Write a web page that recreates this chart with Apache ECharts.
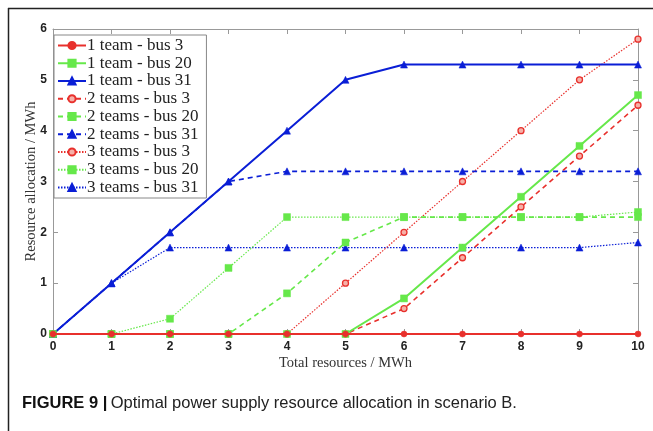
<!DOCTYPE html>
<html><head><meta charset="utf-8">
<script src="https://cdn.jsdelivr.net/npm/echarts@6/dist/echarts.min.js"></script>
<style>html,body{margin:0;padding:0;background:#fff}#c{width:653px;height:431px}</style>
</head><body><div id="c"></div>
<script>
const xValues = [0,1,2,3,4,5,6,7,8,9,10];
const team1Bus3  = [0,0,0,0,0,0,0,0,0,0,0];
const team1Bus20 = [0,0,0,0,0,0,0.7,1.7,2.7,3.7,4.7];
const team1Bus31 = [0,1,2,3,4,5,5.3,5.3,5.3,5.3,5.3];
const team2Bus3  = [0,0,0,0,0,0,0.5,1.5,2.5,3.5,4.5];
const team2Bus20 = [0,0,0,0,0.8,1.8,2.3,2.3,2.3,2.3,2.3];
const team2Bus31 = [0,1,2,3,3.2,3.2,3.2,3.2,3.2,3.2,3.2];
const team3Bus3  = [0,0,0,0,0,1,2,3,4,5,5.8];
const team3Bus20 = [0,0,0.3,1.3,2.3,2.3,2.3,2.3,2.3,2.3,2.4];
const team3Bus31 = [0,1,1.7,1.7,1.7,1.7,1.7,1.7,1.7,1.7,1.8];
const seriesNames = ['1 team - bus 3','1 team - bus 20','1 team - bus 31','2 teams - bus 3','2 teams - bus 20','2 teams - bus 31','3 teams - bus 3','3 teams - bus 20','3 teams - bus 31'];
const xTitle = 'Total resources / MWh';
const yTitle = 'Resource allocation / MWh';

const RED = '#e8302c', GREEN = '#66e84a', BLUE = '#0a1ed6';
const allData = [team1Bus3,team1Bus20,team1Bus31,team2Bus3,team2Bus20,team2Bus31,team3Bus3,team3Bus20,team3Bus31];
const colors = [RED,GREEN,BLUE,RED,GREEN,BLUE,RED,GREEN,BLUE];
const symbols = ['circle','rect','triangle','circle','rect','triangle','circle','rect','triangle'];
const lineTypes = ['solid','solid','solid',[5,4],[5,4],[5,4],[1.5,1.5],[1.5,1.5],[1.5,1.5]];
const widths = [2,2,2,1.6,1.6,1.6,1.2,1.2,1.2];
const hollow = [false,false,false,true,false,false,true,false,false];
const zs = [9,8,7,6,5,4,3,2,1];

const series = allData.map((d,i)=>({
  name: seriesNames[i], type:'line',
  data: d.map((v,j)=>[xValues[j],v]),
  symbol: symbols[i],
  symbolSize: symbols[i]==='circle' ? 6 : 7,
  showAllSymbol: true,
  z: zs[i],
  lineStyle:{color:colors[i], width:widths[i], type:lineTypes[i]},
  itemStyle:{color: hollow[i] ? '#f6b0a8' : colors[i], borderColor:colors[i], borderWidth: hollow[i]?1.3:0.5},
  emphasis:{disabled:true}, animation:false
}));

const labelFont = {color:'#222', fontFamily:'Liberation Sans, Arial, sans-serif', fontWeight:'bold', fontSize:12};
const chart = echarts.init(document.getElementById('c'), null, {renderer:'canvas'});
chart.setOption({
  animation:false,
  backgroundColor:'#fff',
  grid:{left:53, right:15, top:29, bottom:97, show:false},
  legend:{
    orient:'vertical', left:54, top:35, itemGap:0.75, itemWidth:28, itemHeight:9,
    data: seriesNames,
    backgroundColor:'#fff', borderColor:'#888', borderWidth:1, padding:[2,8,2,3],
    textStyle:{fontFamily:'Liberation Serif, Times New Roman, serif', fontSize:17, lineHeight:17, color:'#222', padding:[0,0,0,-4]}
  },
  xAxis:[{
    type:'value', min:0, max:10, interval:1,
    axisLine:{show:true, onZero:false, lineStyle:{color:'#999', width:1}},
    axisTick:{show:true, inside:true, length:5, lineStyle:{color:'#999'}},
    axisLabel:Object.assign({margin:7}, labelFont),
    splitLine:{show:false},
    name: xTitle, nameLocation:'middle', nameGap:22, nameMoveOverlap:false,
    nameTextStyle:{fontFamily:'Liberation Serif, Times New Roman, serif', fontSize:14.5, color:'#333'}
  },{
    type:'value', min:0, max:10, interval:1, position:'top',
    axisLine:{show:true, onZero:false, lineStyle:{color:'#999'}},
    axisTick:{show:true, inside:true, length:5, lineStyle:{color:'#999'}},
    axisLabel:{show:false}, splitLine:{show:false}
  }],
  yAxis:[{
    type:'value', min:0, max:6, interval:1,
    axisLine:{show:true, onZero:false, lineStyle:{color:'#999', width:1}},
    axisTick:{show:true, inside:true, length:5, lineStyle:{color:'#999'}},
    axisLabel:Object.assign({margin:6}, labelFont),
    splitLine:{show:false},
    name: yTitle, nameLocation:'middle', nameGap:14, nameMoveOverlap:false,
    nameTextStyle:{fontFamily:'Liberation Serif, Times New Roman, serif', fontSize:14.5, color:'#333'}
  },{
    type:'value', min:0, max:6, interval:1, position:'right',
    axisLine:{show:true, onZero:false, lineStyle:{color:'#999'}},
    axisTick:{show:true, inside:true, length:5, lineStyle:{color:'#999'}},
    axisLabel:{show:false}, splitLine:{show:false}
  }],
  graphic:[
    {type:'line', shape:{x1:8,y1:8.5,x2:653,y2:8.5}, style:{stroke:'#222', lineWidth:1.5}, silent:true},
    {type:'line', shape:{x1:8.5,y1:8,x2:8.5,y2:431}, style:{stroke:'#222', lineWidth:1.5}, silent:true},
    {type:'text', left:22, top:395, style:{
      text:'{b|FIGURE 9 |} {r|Optimal power supply resource allocation in scenario B.}',
      rich:{
        b:{fontFamily:'Liberation Sans, Arial, sans-serif', fontWeight:'bold', fontSize:16.5, fill:'#111'},
        r:{fontFamily:'Liberation Sans, Arial, sans-serif', fontSize:16.5, fill:'#222'}
      }
    }}
  ],
  series: series
});
</script></body></html>
